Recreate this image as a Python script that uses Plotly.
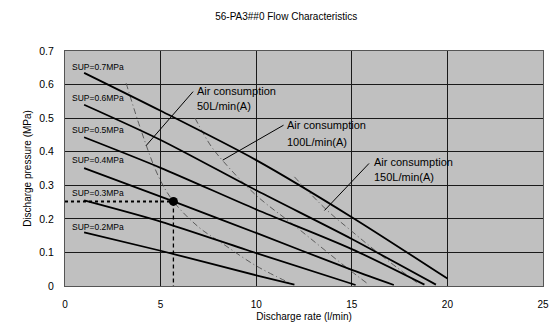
import plotly.graph_objects as go

# ---- data ----
sup_labels = ["SUP=0.7MPa", "SUP=0.6MPa", "SUP=0.5MPa", "SUP=0.4MPa", "SUP=0.3MPa", "SUP=0.2MPa"]
sup_x = [
    [1, 5, 10, 15, 20],
    [1, 5, 10, 15, 19.4],
    [1, 5, 10, 15, 18.8],
    [1, 5.67, 10, 15, 17.2],
    [1, 5, 10, 15.2],
    [1, 5, 10, 12],
]
sup_y = [
    [0.635, 0.522, 0.375, 0.205, 0.022],
    [0.540, 0.435, 0.285, 0.140, 0.004],
    [0.443, 0.352, 0.228, 0.110, 0.004],
    [0.351, 0.252, 0.158, 0.048, 0.003],
    [0.255, 0.192, 0.098, 0.003],
    [0.160, 0.105, 0.032, 0.004],
]
label_y = [0.652, 0.560, 0.464, 0.375, 0.276, 0.175]

air_line1 = ["Air consumption", "Air consumption", "Air consumption"]
air_line2 = ["50L/min(A)", "100L/min(A)", "150L/min(A)"]
air_x = [
    [3.2, 4.0, 4.9, 5.67, 7, 8.25, 10, 11.9],
    [6.8, 7.6, 8.3, 10, 12, 14.7, 15.8],
    [12, 13.66, 15, 16.5, 18.5],
]
air_y = [
    [0.604, 0.46, 0.325, 0.252, 0.175, 0.126, 0.06, 0.005],
    [0.50, 0.42, 0.37, 0.27, 0.18, 0.056, 0.008],
    [0.325, 0.228, 0.163, 0.093, 0.006],
]
# leader lines: (near text) -> (on curve)
leader_from = [(6.7, 0.579), (11.43, 0.479), (15.9, 0.365)]
leader_to = [(4.24, 0.418), (8.25, 0.375), (13.57, 0.225)]
text_x = [6.8, 11.5, 16.07]
text_y1 = [0.582, 0.479, 0.37]
text_y2 = [0.535, 0.430, 0.325]

op_point = (5.67, 0.252)

fig = go.Figure()

for xs, ys in zip(air_x, air_y):
    fig.add_trace(go.Scatter(x=xs, y=ys, mode="lines",
                             line=dict(color="#505050", width=0.9, dash="6px,3px,1px,3px", shape="spline"),
                             showlegend=False, hoverinfo="skip"))

for xs, ys in zip(sup_x, sup_y):
    fig.add_trace(go.Scatter(x=xs, y=ys, mode="lines",
                             line=dict(color="black", width=1.8, shape="spline", smoothing=0.8),
                             showlegend=False, hoverinfo="skip"))

for (x0, y0), (x1, y1) in zip(leader_from, leader_to):
    fig.add_trace(go.Scatter(x=[x0, x1], y=[y0, y1], mode="lines",
                             line=dict(color="black", width=1),
                             showlegend=False, hoverinfo="skip"))

# operating point guides
fig.add_trace(go.Scatter(x=[0, op_point[0]], y=[op_point[1], op_point[1]], mode="lines",
                         line=dict(color="black", width=2, dash="dot"),
                         showlegend=False, hoverinfo="skip"))
fig.add_trace(go.Scatter(x=[op_point[0], op_point[0]], y=[op_point[1], 0], mode="lines",
                         line=dict(color="black", width=1.3, dash="4px,3px"),
                         showlegend=False, hoverinfo="skip"))
fig.add_trace(go.Scatter(x=[op_point[0]], y=[op_point[1]], mode="markers",
                         marker=dict(color="black", size=9),
                         showlegend=False, hoverinfo="skip"))

annotations = []
for lab, ly in zip(sup_labels, label_y):
    annotations.append(dict(x=0.27, y=ly, text=lab, showarrow=False, xanchor="left",
                            yanchor="middle", font=dict(size=8.5, color="black")))
for tx, y1, y2, l1, l2 in zip(text_x, text_y1, text_y2, air_line1, air_line2):
    annotations.append(dict(x=tx, y=y1, text=l1, showarrow=False, xanchor="left",
                            yanchor="middle", font=dict(size=11, color="black")))
    annotations.append(dict(x=tx, y=y2, text=l2, showarrow=False, xanchor="left",
                            yanchor="middle", font=dict(size=11, color="black")))

fig.update_layout(
    width=558, height=333,
    margin=dict(l=65, r=9, t=51, b=47),
    paper_bgcolor="white",
    plot_bgcolor="#C0C0C0",
    font=dict(family="Liberation Sans, Arial, sans-serif", size=10, color="black"),
    title=dict(text="56-PA3##0 Flow Characteristics", x=0.513, xanchor="center",
               y=0.95, yanchor="middle", font=dict(size=10)),
    annotations=annotations,
    xaxis=dict(range=[0, 25], dtick=5, tick0=0, showgrid=True, gridcolor="#1a1a1a", gridwidth=1,
               zeroline=False, showline=True, linecolor="#555", mirror=True, linewidth=1,
               ticks="outside", ticklen=9, tickcolor="rgba(0,0,0,0)",
               title=dict(text="Discharge rate (l/min)", font=dict(size=10), standoff=3),
               tickfont=dict(size=10)),
    yaxis=dict(range=[0, 0.7], dtick=0.1, tick0=0, showgrid=True, gridcolor="#1a1a1a", gridwidth=1,
               zeroline=False, showline=True, linecolor="#555", mirror=True, linewidth=1,
               ticks="outside", ticklen=8, tickcolor="rgba(0,0,0,0)",
               title=dict(text="Discharge pressure (MPa)", font=dict(size=10), standoff=5),
               tickfont=dict(size=10.5)),
)

fig.write_html("out.html")
